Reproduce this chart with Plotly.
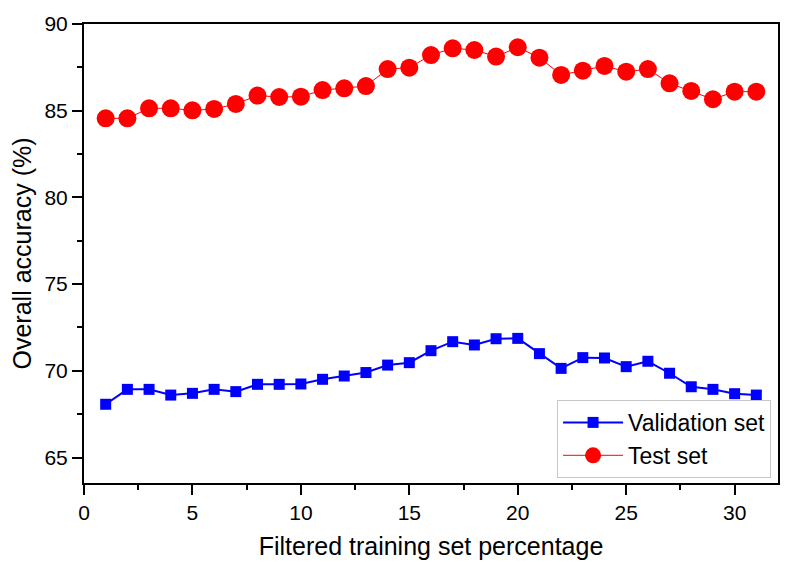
import plotly.graph_objects as go

x_vals = list(range(1, 32))
validation = [68.07, 68.93, 68.93, 68.60, 68.70, 68.93, 68.80, 69.22, 69.22, 69.24,
              69.51, 69.70, 69.90, 70.33, 70.47, 71.16, 71.68, 71.49, 71.85, 71.87,
              70.99, 70.14, 70.76, 70.74, 70.24, 70.55, 69.86, 69.08, 68.93, 68.68, 68.60]
test = [84.56, 84.56, 85.14, 85.14, 85.02, 85.10, 85.39, 85.87, 85.79, 85.81,
        86.19, 86.29, 86.42, 87.40, 87.48, 88.21, 88.60, 88.50, 88.12, 88.66,
        88.06, 87.06, 87.31, 87.58, 87.25, 87.40, 86.58, 86.14, 85.66, 86.10, 86.10]

FONT = "Liberation Sans, Arial, sans-serif"

fig = go.Figure()
fig.add_trace(go.Scatter(x=x_vals, y=validation, mode="lines+markers", name="Validation set",
                         line=dict(color="#0000ff", width=2),
                         marker=dict(symbol="square", size=11, color="#0000ff")))
fig.add_trace(go.Scatter(x=x_vals, y=test, mode="lines+markers", name="Test set",
                         line=dict(color="#ff0000", width=1),
                         marker=dict(symbol="circle", size=18, color="#ff0000")))

axis_common = dict(showgrid=False, zeroline=False, linecolor="black", linewidth=2,
                   tickcolor="black", tickwidth=2, ticklen=10, automargin=False,
                   tickfont=dict(family=FONT, size=21, color="black"))

# page body has an 8px default margin, so the figure is sized/shifted to compensate
fig.update_layout(
    width=786, height=554,
    margin=dict(l=76, r=16, t=16, b=79, autoexpand=False),
    paper_bgcolor="white", plot_bgcolor="white",
    font=dict(family=FONT, color="black"),
    xaxis=dict(range=[0, 32], dtick=5, tick0=0, ticks="outside", showline=True, mirror=True,
               minor=dict(dtick=2.5, tick0=0, ticks="outside", ticklen=5, tickwidth=2, tickcolor="black"),
               title=dict(text="Filtered training set percentage", font=dict(family=FONT, size=25), standoff=14),
               **axis_common),
    yaxis=dict(range=[63.53, 90], dtick=5, tick0=65, ticks="outside", showline=True, mirror=True,
               minor=dict(dtick=2.5, tick0=65, ticks="outside", ticklen=5, tickwidth=2, tickcolor="black"),
               title=dict(text="Overall accuracy (%)", font=dict(family=FONT, size=25), standoff=10),
               **axis_common),
    xaxis2=dict(range=[0, 32], dtick=5, tick0=0, ticks="inside", overlaying="x", side="top",
                showticklabels=False, showline=False, showgrid=False, zeroline=False, automargin=False,
                tickcolor="black", tickwidth=2, ticklen=10,
                minor=dict(dtick=2.5, tick0=0, ticks="inside", ticklen=5, tickwidth=2, tickcolor="black")),
    yaxis2=dict(range=[63.53, 90], dtick=5, tick0=65, ticks="inside", overlaying="y", side="right",
                showticklabels=False, showline=False, showgrid=False, zeroline=False, automargin=False,
                tickcolor="black", tickwidth=2, ticklen=10,
                minor=dict(dtick=2.5, tick0=65, ticks="inside", ticklen=5, tickwidth=2, tickcolor="black")),
    legend=dict(x=0.99, y=0.011, xanchor="right", yanchor="bottom",
                bordercolor="#c8c8c8", borderwidth=1, bgcolor="white",
                font=dict(family=FONT, size=23, color="black"),
                itemwidth=60, tracegroupgap=0),
    showlegend=True,
)

fig.write_html("out.html")
